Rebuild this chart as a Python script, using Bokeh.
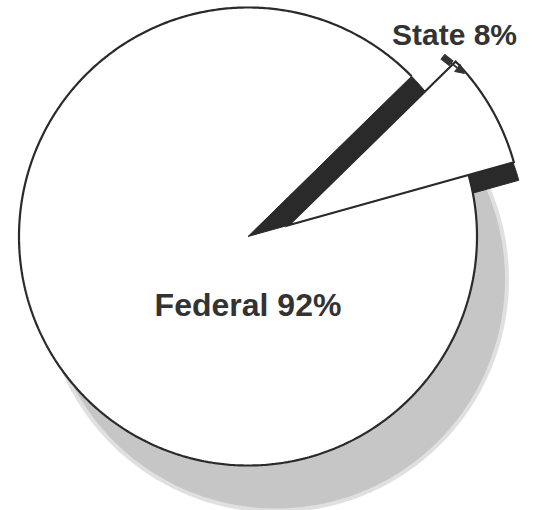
import numpy as np
from bokeh.plotting import figure
from bokeh.models import Range1d, Arrow, NormalHead
from bokeh.core.properties import value
from bokeh.embed import file_html
from bokeh.resources import INLINE

# ---- data ----
labels = ["Federal", "State"]
shares = [92, 8]

# ---- layout / style ----
W, H = 536, 510
CX, CY, R = 247.5, 236.0, 229.0        # pie centre and radius (pixel-like units)
STATE_MID = 30.0                        # direction of the exploded slice (deg)
EXPLODE = 42.0                          # how far the slice is pulled out
SLICE_R = 234.0
EXTRUDE = (5.0, 18.0)                   # dark thickness under the slice
SHADOW = (28.0, 43.0)
INK = "#2a2a2a"

p = figure(width=W, height=H, output_backend="svg", toolbar_location=None,
           x_range=Range1d(0, W), y_range=Range1d(H, 0),
           min_border=0)
p.axis.visible = False
p.grid.visible = False
p.outline_line_color = None
p.background_fill_color = "white"
p.border_fill_color = "white"


def sector(cx, cy, r, a0, a1, n=200, apex=True):
    t = np.radians(np.linspace(a0, a1, n))
    xs = cx + r * np.cos(t)
    ys = cy - r * np.sin(t)
    if apex:
        xs = np.concatenate([[cx], xs])
        ys = np.concatenate([[cy], ys])
    return xs, ys


total = float(sum(shares))
span_state = shares[1] / total * 360.0
a_lo = STATE_MID - span_state / 2
a_hi = STATE_MID + span_state / 2

# shadow (soft edge + core)
sx, sy = CX + SHADOW[0], CY + SHADOW[1]
xs, ys = sector(sx, sy, R + 4, 0, 360, 400, apex=False)
p.patch(xs, ys, fill_color="#e0e0e0", line_color=None)
xs, ys = sector(sx, sy, R, 0, 360, 400, apex=False)
p.patch(xs, ys, fill_color="#c6c6c6", line_color=None)

# exploded slice geometry
px = CX + EXPLODE * np.cos(np.radians(a_lo))
py = CY - EXPLODE * np.sin(np.radians(a_lo))

# dark extrusion of the slice
xs, ys = sector(px + EXTRUDE[0], py + EXTRUDE[1], SLICE_R, a_lo, a_hi)
p.patch(xs, ys, fill_color=INK, line_color=INK, line_width=1)

# Federal slice (white) and the dark hole left by the State slice
xs, ys = sector(CX, CY, R, a_hi, a_lo + 360, 600)
p.patch(xs, ys, fill_color="white", line_color=None)
xs, ys = sector(CX, CY, R, a_lo, a_hi, 100)
p.patch(xs, ys, fill_color=INK, line_color=INK, line_width=1)
xs, ys = sector(CX, CY, R, a_hi, a_lo + 360, 600, apex=False)
p.line(xs, ys, line_color=INK, line_width=2.2)

# exploded State slice
xs, ys = sector(px, py, SLICE_R, a_lo, a_hi, 120)
p.patch(xs, ys, fill_color="white", line_color=INK, line_width=2.2,
        line_join="miter")

# labels
font = value("Liberation Sans")
p.text(x=[CX], y=[304], text=[f"{labels[0]} {shares[0]}%"],
       text_font=font, text_font_style="bold", text_font_size="32px",
       text_color="#333333", text_align="center", text_baseline="middle")
lx, ly = 454.0, 34.0
p.text(x=[lx], y=[ly], text=[f"{labels[1]} {shares[1]}%"],
       text_font=font, text_font_style="bold", text_font_size="30px",
       text_color="#333333", text_align="center", text_baseline="middle")

# small dart arrow pointing at the slice
ax0, ay0 = lx - 12, ly + 22
p.segment(x0=[ax0], y0=[ay0], x1=[ax0 + 9], y1=[ay0 + 7],
          line_color="#333333", line_width=7)
p.add_layout(Arrow(end=NormalHead(size=9, fill_color="#333333", line_color="#333333"),
                   x_start=ax0 + 8, y_start=ay0 + 6, x_end=ax0 + 22, y_end=ay0 + 17,
                   line_color="#333333", line_width=1.8))

open("out.html", "w").write(file_html(p, INLINE))
